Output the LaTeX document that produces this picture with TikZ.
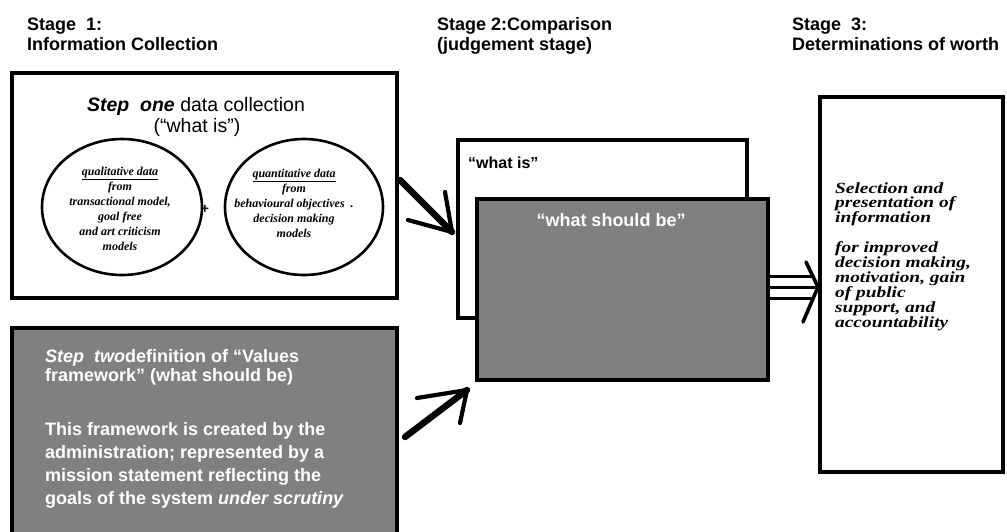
\documentclass[tikz,border=0pt]{standalone}
\usepackage{fontspec}
\setmainfont{Liberation Serif}
\setsansfont{Liberation Sans}
\newfontfamily\wideserif[FakeStretch=1.25]{Liberation Serif}
\usetikzlibrary{shapes.geometric}

\begin{document}
\begin{tikzpicture}[x=1pt,y=-1pt,
  frame/.style={draw=black, line width=4pt, inner sep=0pt},
  oval/.style={draw=black, ellipse, line width=2.6pt, inner sep=0pt},
  stagelabel/.style={anchor=base west, inner sep=0pt,
    font=\sffamily\bfseries\fontsize{18}{18}\selectfont},
  titletext/.style={anchor=base, inner sep=0pt,
    font=\sffamily\fontsize{19.5}{19.5}\selectfont},
  ovaltext/.style={anchor=base, inner sep=0pt,
    font=\rmfamily\bfseries\itshape\fontsize{12}{12}\selectfont},
  worthtext/.style={anchor=base west, inner sep=0pt,
    font=\wideserif\bfseries\itshape\fontsize{15.5}{15.5}\selectfont},
  valuetext/.style={anchor=base west, inner sep=0pt, text=white,
    font=\sffamily\bfseries\fontsize{18}{18}\selectfont},
  shaft/.style={line width=6.5pt, line cap=round},
  barb/.style={line width=4.2pt, line cap=round, line join=round},
  rail/.style={line width=3pt}
]
\useasboundingbox (0,0) rectangle (1007,531);

% ---------- stage headings ----------
\node[stagelabel] (s1a) at (27,30) {Stage\ \ 1:};
\node[stagelabel] (s1b) at (27,50) {Information Collection};
\node[stagelabel] (s2a) at (437,30) {Stage 2:Comparison};
\node[stagelabel] (s2b) at (437,50) {(judgement stage)};
\node[stagelabel] (s3a) at (792,30) {Stage\ \ 3:};
\node[stagelabel] (s3b) at (792,50) {Determinations of worth};

% ---------- stage 1: step one ----------
\node[frame, minimum width=385pt, minimum height=225pt] (collect) at (204.5,185.5) {};
\node[titletext] (t1) at (196,111) {\textbf{\itshape Step\ \ one} data collection};
\node[titletext] (t2) at (197,132) {(“what is”)};

\node[oval, minimum width=160pt, minimum height=136pt] (qual) at (122,207) {};
\node[oval, minimum width=158pt, minimum height=136pt] (quant) at (304,207) {};
\node[inner sep=0pt, font=\sffamily\bfseries\fontsize{14}{14}\selectfont] (plus) at (205,209) {+};

\foreach \t [count=\i] in {\underline{qualitative data}, from, {transactional model,},
    goal free, and art criticism, models}
  \node[ovaltext] (ql\i) at (120,{160+15*\i}) {\t};
\foreach \t [count=\i] in {\underline{quantitative data}, from,
    {behavioural objectives\ \ .}, decision making, models}
  \node[ovaltext] (qn\i) at (294,{162+15*\i}) {\t};

% ---------- stage 1: step two ----------
\node[frame, fill=black!50, minimum width=385pt, minimum height=215pt] (values) at (204.5,435.5) {};
\node[valuetext] (v1) at (45,362) {\textit{Step\ \ two}definition of “Values};
\node[valuetext] (v2) at (45,381) {framework” (what should be)};
\node[valuetext] (v3) at (45,435) {This framework is created by the};
\node[valuetext] (v4) at (45,458) {administration; represented by a};
\node[valuetext] (v5) at (45,481) {mission statement reflecting the};
\node[valuetext] (v6) at (45,504) {goals of the system \textit{under scrutiny}};

% ---------- stage 2: comparison ----------
\node[frame, fill=white, minimum width=289pt, minimum height=178pt] (whatis) at (602.5,229) {};
\node[anchor=base west, inner sep=0pt, font=\sffamily\bfseries\fontsize{16}{16}\selectfont]
  (wi) at (468,168) {“what is”};
\node[frame, fill=black!50, minimum width=291pt, minimum height=181pt] (should) at (622.5,289.5) {};
\node[anchor=base, inner sep=0pt, text=white, font=\sffamily\bfseries\fontsize{18}{18}\selectfont]
  (ws) at (611,226) {“what should be”};

% ---------- stage 3: determinations of worth ----------
\node[frame, line width=3.6pt, minimum width=183pt, minimum height=375pt] (worth) at (911.5,284.5) {};
\foreach \t/\y [count=\i] in {Selection and/193, presentation of/207, information/222,
    for improved/252, {decision making,}/267, {motivation, gain}/282, of public/297,
    {support, and}/312, accountability/327}
  \node[worthtext] (w\i) at (835,\y) {\t};

% ---------- arrows ----------
% step one -> "what is"
\coordinate (a1s) at (400,180);
\coordinate (a1t) at (452,232);
\coordinate (a1u) at (445,192);
\coordinate (a1l) at (408,220);
\draw[shaft] (a1s) -- (a1t);
\draw[barb] (a1u) -- (a1t) -- (a1l);

% step two -> "what should be"
\coordinate (a2s) at (405,437);
\coordinate (a2t) at (467,390);
\coordinate (a2u) at (417,398);
\coordinate (a2l) at (460,423);
\draw[shaft] (a2s) -- (a2t);
\draw[barb] (a2u) -- (a2t) -- (a2l);

% comparison -> worth (triple line)
\coordinate (r1s) at (770,276); \coordinate (r1t) at (812,276);
\coordinate (r2s) at (770,287); \coordinate (r2t) at (816,287);
\coordinate (r3s) at (770,298); \coordinate (r3t) at (812,298);
\draw[rail] (r1s) -- (r1t);
\draw[rail] (r2s) -- (r2t);
\draw[rail] (r3s) -- (r3t);
\coordinate (a3t) at (818,287);
\coordinate (a3u) at (806,262);
\coordinate (a3l) at (803,322);
\draw[barb, line width=3.6pt] (a3u) -- (a3t) -- (a3l);
\end{tikzpicture}
\end{document}
